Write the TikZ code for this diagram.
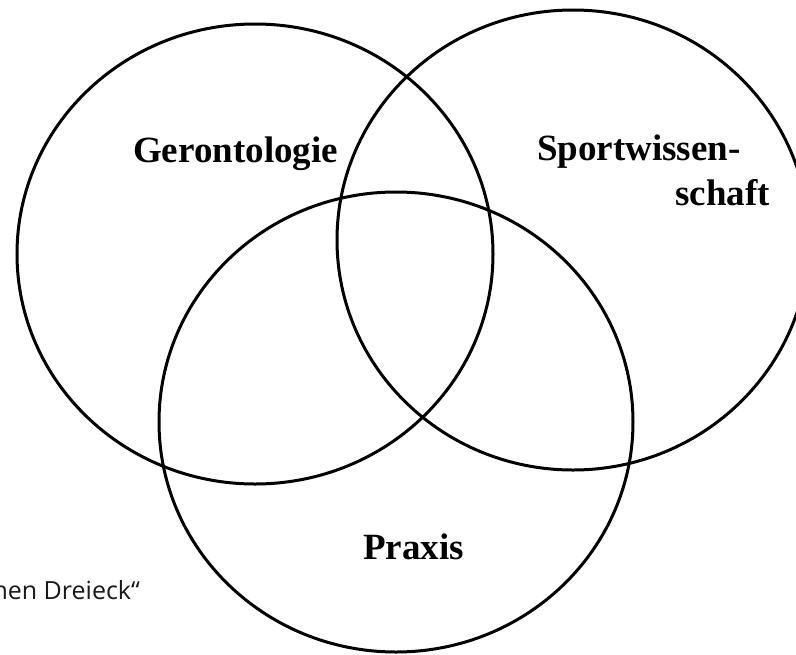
\documentclass[tikz,border=0pt]{standalone}
\usepackage{fontspec}
\setmainfont{Liberation Serif}
\newfontfamily\notefont{Open Sans}
\begin{document}
\begin{tikzpicture}[x=1pt,y=-1pt,
  ring/.style={draw=black,line width=3pt},
  fieldlabel/.style={font=\fontsize{37}{44}\selectfont\bfseries,inner sep=0pt,anchor=base west},
  notelabel/.style={font=\notefont\fontsize{25}{30}\selectfont,inner sep=0pt,anchor=base east,text=black!90}]
\useasboundingbox (0,0) rectangle (796,654);
\draw[ring] (255,254) ellipse [x radius=238pt, y radius=230pt];
\draw[ring] (573,240) ellipse [x radius=236pt, y radius=230pt];
\draw[ring] (396,422) ellipse [x radius=237pt, y radius=230pt];
\node[fieldlabel] (geronto) at (133,162) {Gerontologie};
\node[fieldlabel] (sport1) at (537,160) {Sportwissen-};
\node[fieldlabel] (sport2) at (675,205) {schaft};
\node[fieldlabel] (praxis) at (363,559) {Praxis};
\node[notelabel] (note) at (140,599) {hen Dreieck“};
\end{tikzpicture}
\end{document}
